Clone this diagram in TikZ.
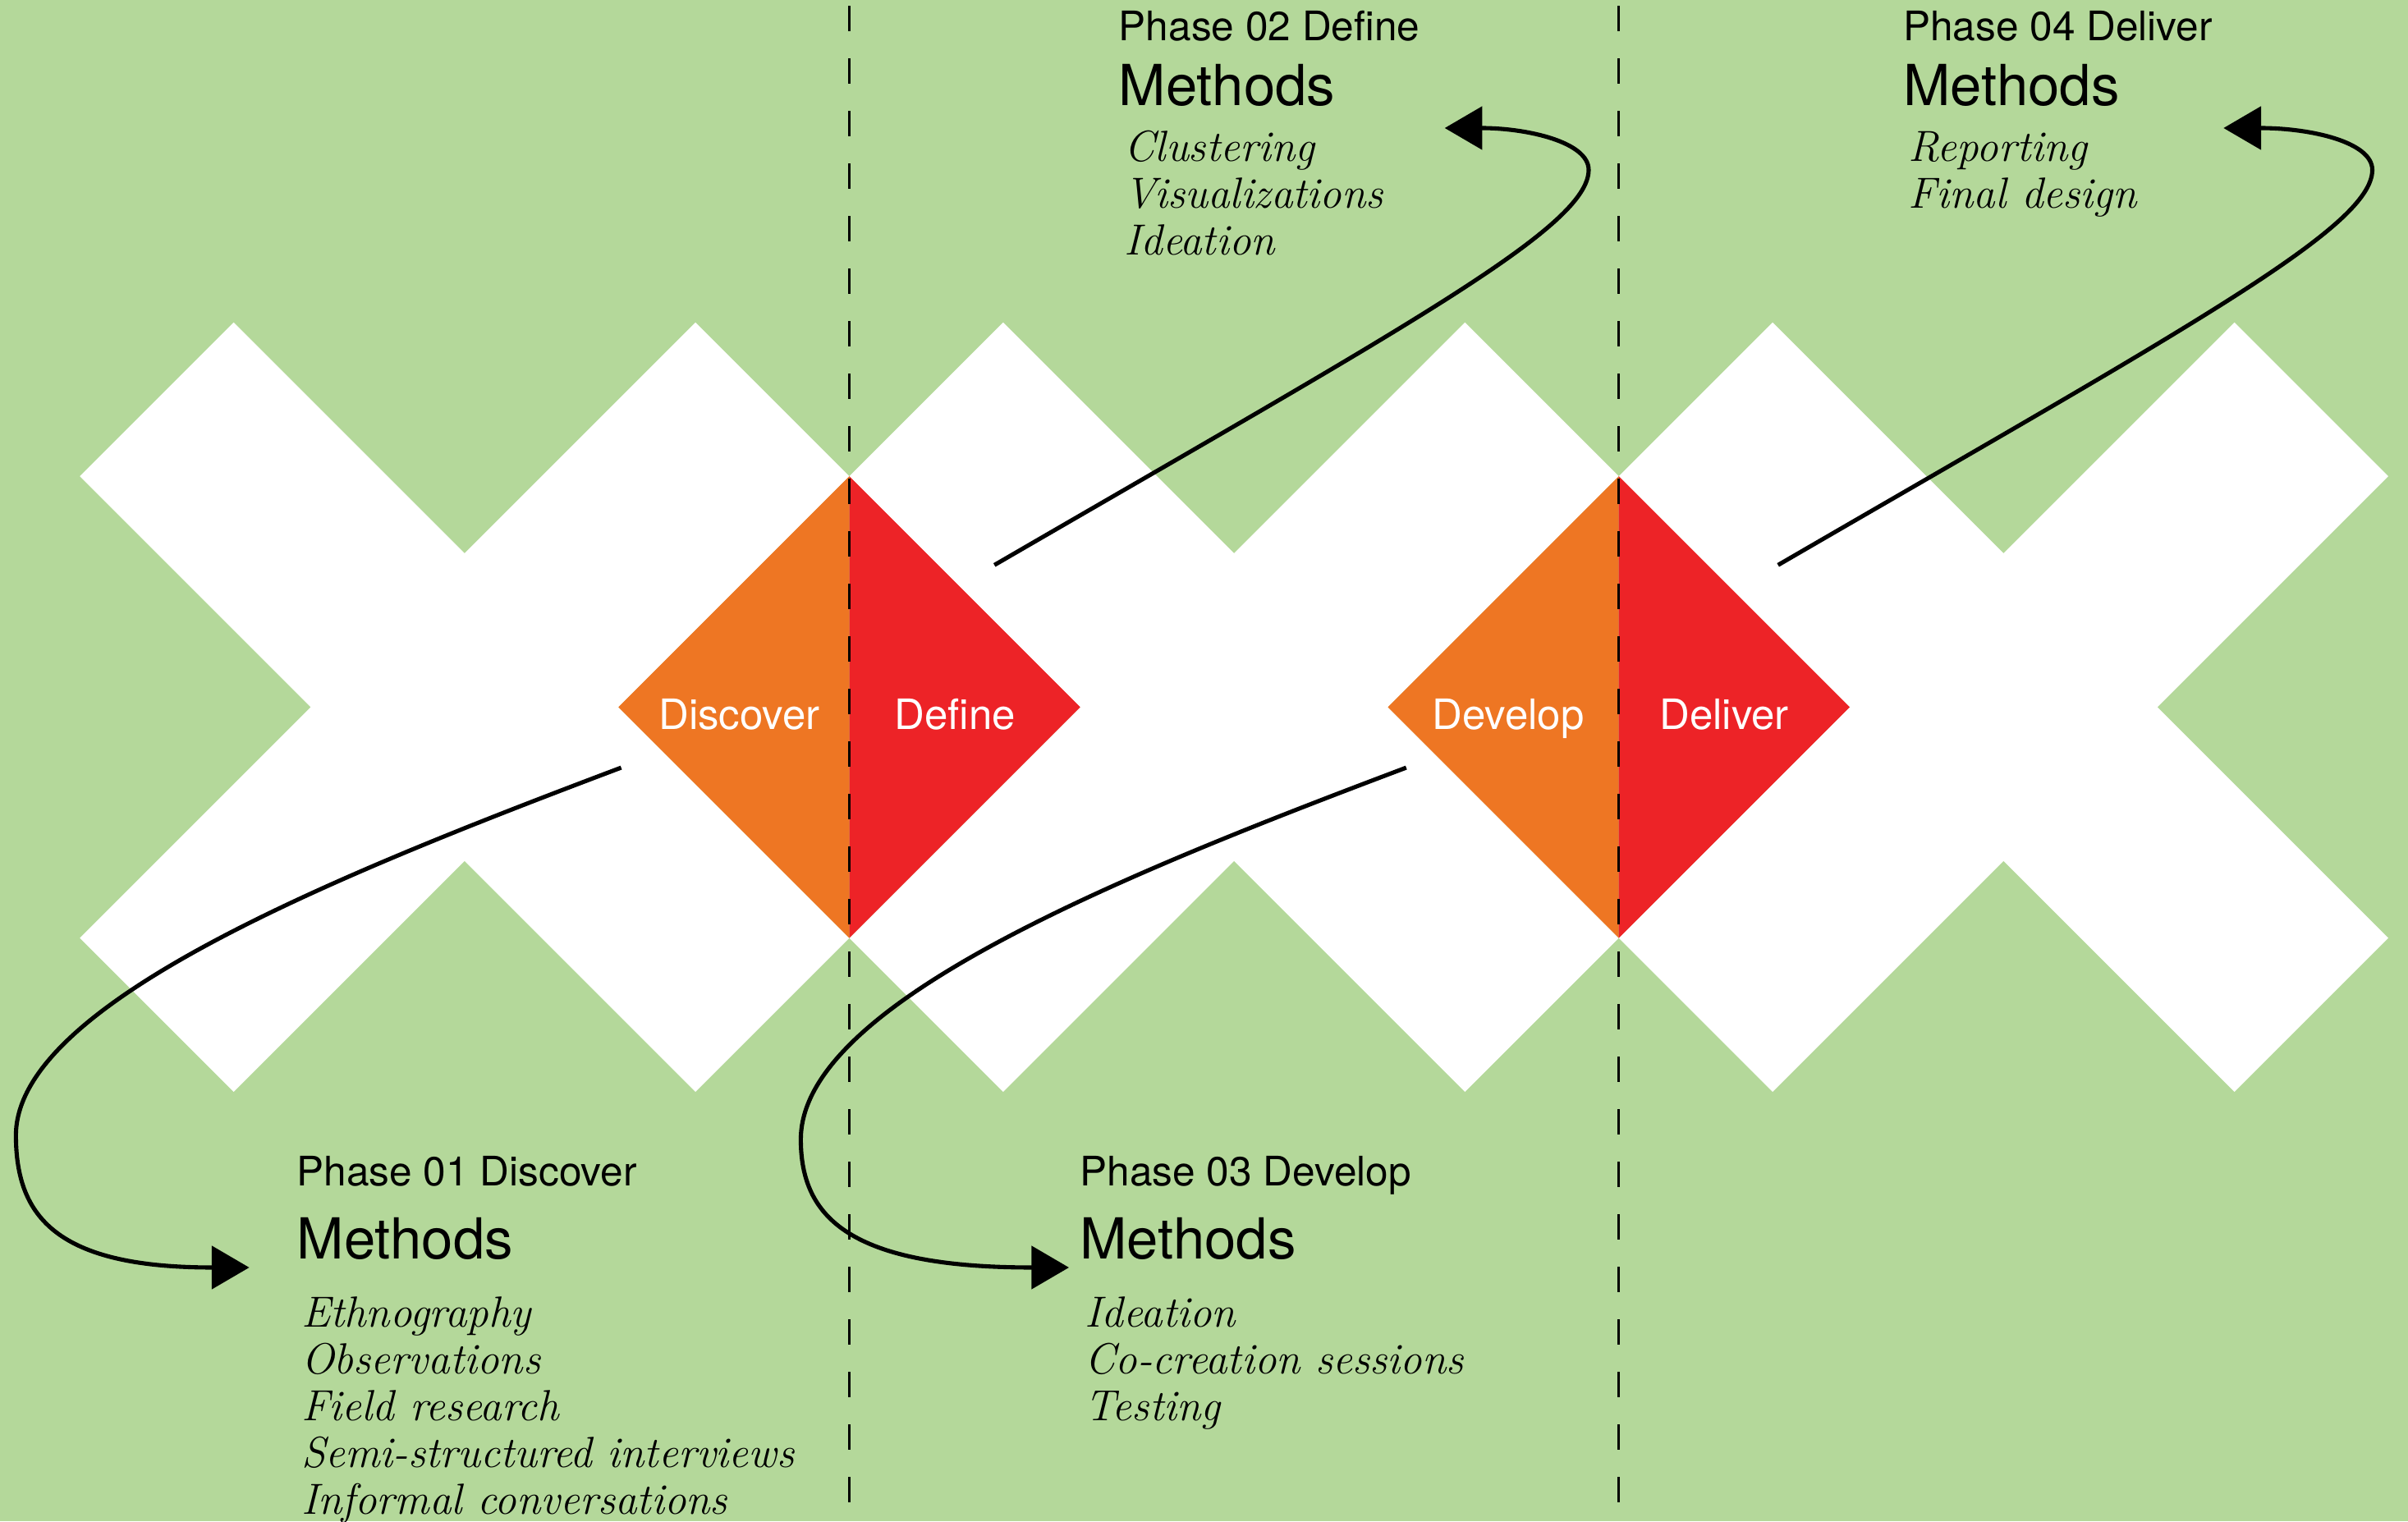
\documentclass[tikz,border=0pt]{standalone}
\usepackage{fontspec}
\newfontfamily\headfont{TeX Gyre Heros}
\usetikzlibrary{arrows.meta}
\definecolor{bggreen}{RGB}{180,216,154}
\definecolor{phorange}{RGB}{238,118,35}
\definecolor{phred}{RGB}{237,35,39}

\begin{document}
\begin{tikzpicture}[
  phase/.style={anchor=base west, inner sep=0pt, font=\headfont\fontsize{14.1}{16}\selectfont},
  methods/.style={anchor=base west, inner sep=0pt, font=\headfont\fontsize{19.6}{22}\selectfont},
  methodlist/.style={anchor=base west, inner sep=0pt, font=\itshape\fontsize{15.1}{16.2}\selectfont},
  dlabel/.style={anchor=base, inner sep=0pt, text=white, font=\headfont\fontsize{14.5}{16}\selectfont},
  flow/.style={black, line width=1.45pt, -{Triangle[length=13pt,width=14.8pt]}},
  divider/.style={black, line width=0.75pt, dash pattern=on 0.31cm off 0.33cm, dash phase=0.567cm}
]
\useasboundingbox (0,0) rectangle (29.33,18.53);
\fill[bggreen] (0,0) rectangle (29.33,18.53);
%
% white crosses
\fill[white] (2.847,14.602) -- (5.659,11.790) -- (8.471,14.602) -- (10.345,12.728) -- (7.533,9.916) -- (10.345,7.104) -- (8.471,5.230) -- (5.659,8.042) -- (2.847,5.230) -- (0.973,7.104) -- (3.785,9.916) -- (0.973,12.728) -- cycle;
\fill[white, xshift=9.372cm] (2.847,14.602) -- (5.659,11.790) -- (8.471,14.602) -- (10.345,12.728) -- (7.533,9.916) -- (10.345,7.104) -- (8.471,5.230) -- (5.659,8.042) -- (2.847,5.230) -- (0.973,7.104) -- (3.785,9.916) -- (0.973,12.728) -- cycle;
\fill[white, xshift=18.744cm] (2.847,14.602) -- (5.659,11.790) -- (8.471,14.602) -- (10.345,12.728) -- (7.533,9.916) -- (10.345,7.104) -- (8.471,5.230) -- (5.659,8.042) -- (2.847,5.230) -- (0.973,7.104) -- (3.785,9.916) -- (0.973,12.728) -- cycle;
%
% diamonds
\fill[phorange] (10.345,12.728) -- (7.533,9.916) -- (10.345,7.104) -- cycle;
\fill[phred] (10.345,12.728) -- (13.157,9.916) -- (10.345,7.104) -- cycle;
\fill[phorange] (19.717,12.728) -- (16.905,9.916) -- (19.717,7.104) -- cycle;
\fill[phred] (19.717,12.728) -- (22.529,9.916) -- (19.717,7.104) -- cycle;
%
\coordinate (top1) at (10.345,18.53);
\coordinate (bot1) at (10.345,0);
\coordinate (top2) at (19.717,18.53);
\coordinate (bot2) at (19.717,0);
\draw[divider] (top1) -- (bot1);
\draw[divider] (top2) -- (bot2);
%
\node[dlabel] (discover) at (9.004,9.646) {Discover};
\node[dlabel] (define) at (11.634,9.646) {Define};
\node[dlabel] (develop) at (18.369,9.646) {Develop};
\node[dlabel] (deliver) at (21.0,9.646) {Deliver};
%
% phase texts
\node[phase] (ph1) at (3.61,4.08) {Phase 01 Discover};
\node[methods] (ph1m) at (3.61,3.197) {Methods};
\node[methodlist] (ph1l) at (3.663,2.363) {\begin{tabular}[t]{@{}l@{}}Ethnography\\Observations\\Field research\\Semi-structured interviews\\Informal conversations\end{tabular}};
%
\node[phase] (ph2) at (13.622,18.03) {Phase 02 Define};
\node[methods] (ph2m) at (13.622,17.247) {Methods};
\node[methodlist] (ph2l) at (13.689,16.563) {\begin{tabular}[t]{@{}l@{}}Clustering\\Visualizations\\Ideation\end{tabular}};
%
\node[phase] (ph3) at (13.148,4.08) {Phase 03 Develop};
\node[methods] (ph3m) at (13.148,3.197) {Methods};
\node[methodlist] (ph3l) at (13.21,2.363) {\begin{tabular}[t]{@{}l@{}}Ideation\\Co-creation sessions\\Testing\end{tabular}};
%
\node[phase] (ph4) at (23.175,18.03) {Phase 04 Deliver};
\node[methods] (ph4m) at (23.175,17.247) {Methods};
\node[methodlist] (ph4l) at (23.24,16.563) {\begin{tabular}[t]{@{}l@{}}Reporting\\Final design\end{tabular}};
%
% arrows
\coordinate (dis-out) at (7.566,9.179);
\coordinate (ph1-in) at (3.036,3.09);
\coordinate (dev-out) at (17.128,9.179);
\coordinate (ph3-in) at (13.02,3.09);
\coordinate (def-out) at (12.112,11.647);
\coordinate (ph2-in) at (17.597,16.97);
\coordinate (del-out) at (21.657,11.647);
\coordinate (ph4-in) at (27.083,16.97);
%
\draw[flow] (dis-out) .. controls (4.07,7.86) and (0.194,6.3) .. (0.194,4.7) .. controls (0.194,3.7) and (0.7,3.09) .. (ph1-in);
\draw[flow] (dev-out) .. controls (13.63,7.86) and (9.754,6.3) .. (9.754,4.65) .. controls (9.754,3.7) and (10.35,3.09) .. (ph3-in);
\draw[flow] (def-out) .. controls (17.11,14.547) and (19.35,15.76) .. (19.35,16.46) .. controls (19.35,16.8) and (18.6,16.97) .. (ph2-in);
\draw[flow] (del-out) .. controls (26.655,14.547) and (28.895,15.76) .. (28.895,16.46) .. controls (28.895,16.8) and (28.145,16.97) .. (ph4-in);
%
\end{tikzpicture}
\end{document}
